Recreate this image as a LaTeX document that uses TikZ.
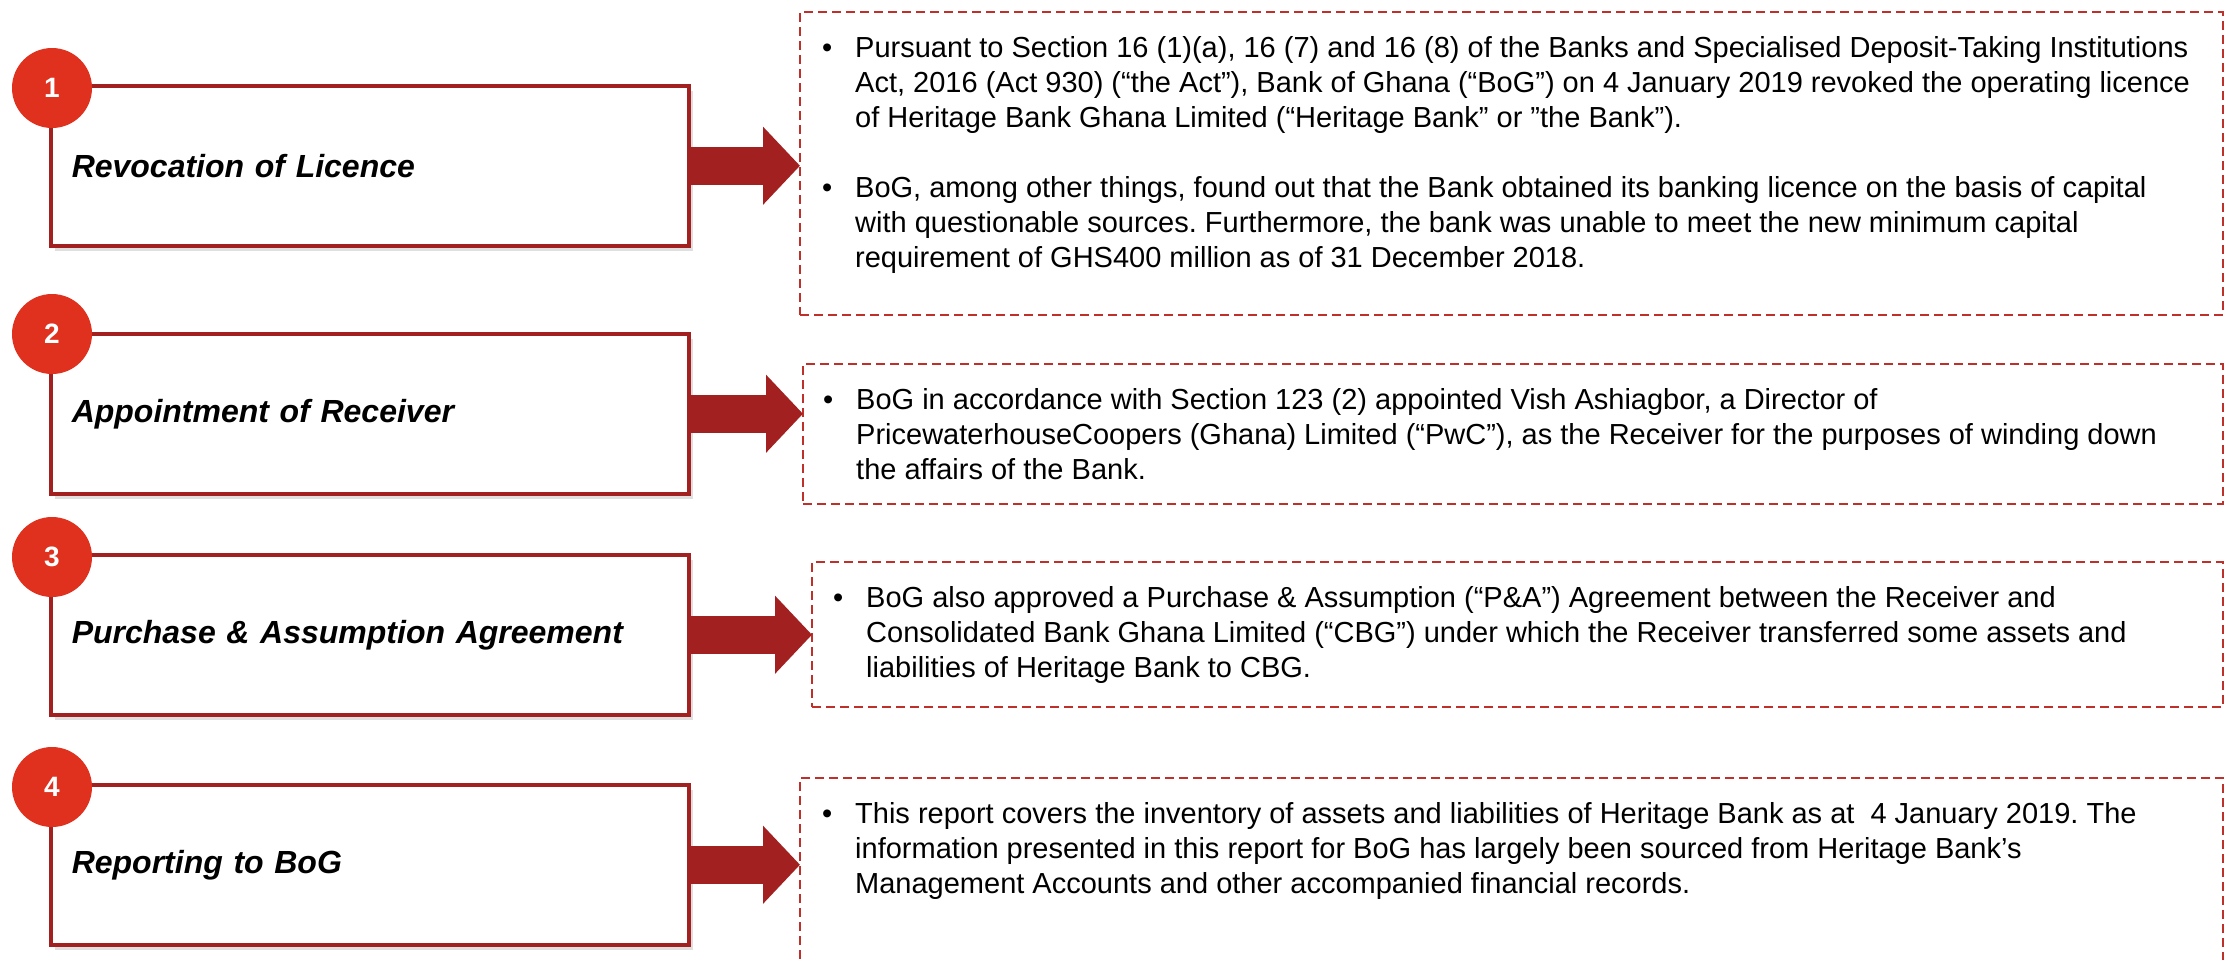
\documentclass[tikz,border=0pt]{standalone}
\usepackage{fontspec}
\setmainfont{Liberation Sans}
\usetikzlibrary{positioning,calc,arrows.meta,shadows}
\frenchspacing

\definecolor{stepred}{HTML}{E0301E}
\definecolor{boxred}{HTML}{A32020}
\definecolor{dashred}{HTML}{C0302A}

\tikzset{
  stagebox/.style={draw=boxred, line width=3.5pt, fill=white, anchor=north west,
    minimum width=638pt, minimum height=160pt, text width=596pt, inner xsep=21pt,
    align=left, font=\fontsize{32}{38}\selectfont\bfseries\itshape,
    drop shadow={shadow xshift=4pt, shadow yshift=-5pt, opacity=0.25}},
  stepnum/.style={circle, fill=stepred, minimum size=80pt, inner sep=0pt,
    text=white, font=\fontsize{28}{32}\selectfont\bfseries},
  infobox/.style={draw=dashred, line width=2.5pt, dash pattern=on 9pt off 5pt,
    anchor=north west, inner sep=0pt, outer sep=0pt},
  infotext/.style={anchor=north west, inner sep=0pt, font=\fontsize{29}{35}\selectfont},
  bigarrow/.style={draw=boxred, line width=38pt, -{Triangle[length=37pt,width=76pt]}}
}

\newcommand{\bul}{\makebox[33pt][l]{\textbullet}}

\begin{document}
\begin{tikzpicture}[x=1pt,y=-1pt]
\useasboundingbox (0,0) rectangle (2232,959);
\clip (0,0) rectangle (2232,959);

% left hand stages
\node[stagebox] (box1) at (49,84) {Revocation of Licence};
\node[stagebox] (box2) at (49,332) {Appointment of Receiver};
\node[stagebox] (box3) at (49,553) {Purchase \& Assumption Agreement};
\node[stagebox] (box4) at (49,783) {Reporting to BoG};

\node[stepnum] (num1) at ($(box1.north west)+(3,4)$) {1};
\node[stepnum] (num2) at ($(box2.north west)+(3,2)$) {2};
\node[stepnum] (num3) at ($(box3.north west)+(3,4)$) {3};
\node[stepnum] (num4) at ($(box4.north west)+(3,4)$) {4};

% dashed frames on the right
\node[infobox, minimum width=1423pt, minimum height=303pt] (frame1) at (800,12) {};
\node[infobox, minimum width=1420pt, minimum height=140pt] (frame2) at (803,364) {};
\node[infobox, minimum width=1411pt, minimum height=145pt] (frame3) at (812,562) {};
\node[infobox, minimum width=1423pt, minimum height=300pt] (frame4) at (800,778) {};

\node[infotext] (text1) at ($(frame1.north west)+(22,20.5)$) {%
\begin{tabular}{@{}l@{}l@{}}
\bul & Pursuant to Section 16 (1)(a), 16 (7) and 16 (8) of the Banks and Specialised Deposit-Taking Institutions\\
 & Act, 2016 (Act 930) (“the Act”), Bank of Ghana (“BoG”) on 4 January 2019 revoked the operating licence\\
 & of Heritage Bank Ghana Limited (“Heritage Bank” or ”the Bank”).\\
 & \\
\bul & BoG, among other things, found out that the Bank obtained its banking licence on the basis of capital\\
 & with questionable sources. Furthermore, the bank was unable to meet the new minimum capital\\
 & requirement of GHS400 million as of 31 December 2018.
\end{tabular}};

\node[infotext] (text2) at ($(frame2.north west)+(20,20.5)$) {%
\begin{tabular}{@{}l@{}l@{}}
\bul & BoG in accordance with Section 123 (2) appointed Vish Ashiagbor, a Director of\\
 & PricewaterhouseCoopers (Ghana) Limited (“PwC”), as the Receiver for the purposes of winding down\\
 & the affairs of the Bank.
\end{tabular}};

\node[infotext] (text3) at ($(frame3.north west)+(21,20.5)$) {%
\begin{tabular}{@{}l@{}l@{}}
\bul & BoG also approved a Purchase \& Assumption (“P\&A”) Agreement between the Receiver and\\
 & Consolidated Bank Ghana Limited (“CBG”) under which the Receiver transferred some assets and\\
 & liabilities of Heritage Bank to CBG.
\end{tabular}};

\node[infotext] (text4) at ($(frame4.north west)+(22,20.5)$) {%
\begin{tabular}{@{}l@{}l@{}}
\bul & This report covers the inventory of assets and liabilities of Heritage Bank as at \ 4 January 2019. The\\
 & information presented in this report for BoG has largely been sourced from Heritage Bank’s\\
 & Management Accounts and other accompanied financial records.
\end{tabular}};

% arrows
\draw[bigarrow] (box1.east) -- (box1.east -| frame1.west);
\draw[bigarrow] (box2.east) -- (box2.east -| frame2.west);
\draw[bigarrow] (box3.east) -- (box3.east -| frame3.west);
\draw[bigarrow] (box4.east) -- (box4.east -| frame4.west);
\end{tikzpicture}
\end{document}
